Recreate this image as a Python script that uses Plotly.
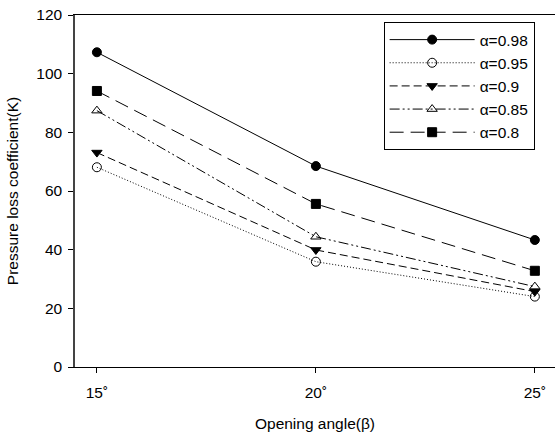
import plotly.graph_objects as go

angles = [15, 20, 25]
angle_labels = ["15˚", "20˚", "25˚"]
series_names = ["α=0.98", "α=0.95", "α=0.9", "α=0.85", "α=0.8"]
k_098 = [107.3, 68.5, 43.3]
k_095 = [68.1, 35.9, 24.0]
k_090 = [73.1, 39.9, 25.7]
k_085 = [87.4, 44.4, 27.4]
k_080 = [94.1, 55.6, 32.8]

series_values = [k_098, k_095, k_090, k_085, k_080]
dashes = ["solid", "1px,2px", "8px,4px", "10px,3px,2px,3px,2px,3px", "14px,7px"]
symbols = ["circle", "circle-open", "triangle-down", "triangle-up-open", "square"]

fig = go.Figure()
for name, vals, d, s in zip(series_names, series_values, dashes, symbols):
    fig.add_trace(go.Scatter(
        x=angles, y=vals, name=name, mode="lines+markers",
        line=dict(color="black", width=1, dash=d),
        marker=dict(symbol=s, size=9, color="black", line=dict(color="black", width=1)),
    ))

fig.update_layout(
    width=555, height=435,
    margin=dict(l=75, r=0, t=15, b=68),
    paper_bgcolor="white", plot_bgcolor="white",
    font=dict(family="Liberation Sans, Arial, sans-serif", color="black", size=15),
    showlegend=True,
    legend=dict(x=0.643, y=0.98, xanchor="left", yanchor="top",
                bordercolor="black", borderwidth=1, bgcolor="white",
                itemwidth=85, font=dict(size=15.5), tracegroupgap=0),
)
fig.update_xaxes(range=[14.5, 25.46], tickvals=angles, ticktext=angle_labels,
                 showline=True, linecolor="black", linewidth=1, mirror=True,
                 ticks="outside", ticklen=5, tickcolor="black", showgrid=False, zeroline=False,
                 automargin=False, ticklabelstandoff=6,
                 title=dict(text="Opening angle(β)", font=dict(size=15.5), standoff=18),
                 tickfont=dict(size=15.5))
fig.update_yaxes(range=[0, 120], dtick=20,
                 showline=True, linecolor="#444", linewidth=1.5, mirror=False,
                 ticks="outside", ticklen=5, tickcolor="black", showgrid=False, zeroline=False,
                 automargin=False, ticklabelstandoff=3,
                 title=dict(text="Pressure loss coefficient(K)", font=dict(size=15.5), standoff=14),
                 tickfont=dict(size=15.5))

fig.write_html("out.html", config={"displayModeBar": False},
               post_script="document.body.style.margin='0';")
